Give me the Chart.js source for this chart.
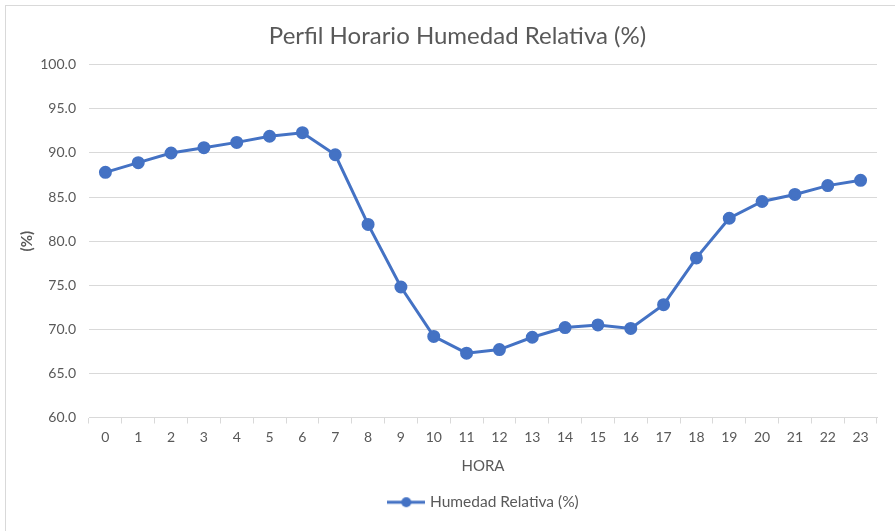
<!DOCTYPE html>
<html>
<head>
<meta charset="utf-8">
<script src="https://cdn.jsdelivr.net/npm/chart.js@4/dist/chart.umd.min.js"></script>
<style>
  body { margin: 0; background: #fff; }
  #wrap { position: relative; width: 895px; height: 531px; }
  #frame { position: absolute; left: 5px; top: 5px; width: 895px; height: 531px; border: 1px solid #d9d9d9; box-sizing: border-box; pointer-events: none; }
</style>
</head>
<body>
<div id="wrap">
  <canvas id="myChart" width="895" height="531"></canvas>
  <div id="frame"></div>
</div>
<script>
// datos
const horas = ["0","1","2","3","4","5","6","7","8","9","10","11","12","13","14","15","16","17","18","19","20","21","22","23"]
const humedad = [87.8, 88.9, 90.0, 90.6, 91.2, 91.9, 92.3, 89.8, 81.9, 74.8, 69.2, 67.3, 67.7, 69.1, 70.2, 70.5, 70.1, 72.8, 78.1, 82.6, 84.5, 85.3, 86.3, 86.9]
const yTicks = [60, 65, 70, 75, 80, 85, 90, 95, 100]

const azul = "#4472C4"
const gris = "#595959"
const fuente = "Lato, 'Open Sans', sans-serif"

// marcador de la leyenda: linea con punto
const marker = document.createElement("canvas")
marker.width = 38
marker.height = 12
const mctx = marker.getContext("2d")
mctx.strokeStyle = azul
mctx.lineWidth = 3
mctx.beginPath()
mctx.moveTo(0, 6)
mctx.lineTo(38, 6)
mctx.stroke()
mctx.fillStyle = azul
mctx.beginPath()
mctx.arc(19, 6, 5, 0, Math.PI * 2)
mctx.fill()

// mover titulo y leyenda un poco a la derecha como en el original
const mover = {
    id: "mover",
    afterLayout(chart) {
        chart.legend.left += 46
        chart.legend.right += 46
        chart.titleBlock.left += 19
        chart.titleBlock.right += 19
    }
}

const config = {
    type: "line",
    data: {
        labels: horas,
        datasets: [{
            label: "Humedad Relativa (%)",
            data: humedad,
            borderColor: azul,
            backgroundColor: azul,
            borderWidth: 3,
            pointRadius: 5,
            pointHoverRadius: 5,
            tension: 0
        }]
    },
    options: {
        responsive: false,
        animation: false,
        layout: { padding: { left: 0, right: 18, top: 0, bottom: 11 } },
        plugins: {
            title: {
                display: true,
                text: "Perfil Horario Humedad Relativa (%)",
                color: gris,
                font: { family: fuente, size: 24, weight: "normal" },
                padding: { top: 22, bottom: 14 }
            },
            legend: {
                position: "bottom",
                labels: {
                    color: gris,
                    font: { family: fuente, size: 15.5 },
                    usePointStyle: true,
                    pointStyleWidth: 32,
                    padding: 9,
                    generateLabels(chart) {
                        const items = Chart.defaults.plugins.legend.labels.generateLabels(chart)
                        items.forEach(i => { i.pointStyle = marker })
                        return items
                    }
                }
            },
            tooltip: { enabled: false }
        },
        scales: {
            x: {
                offset: true,
                grid: { offset: true, drawOnChartArea: false, drawTicks: true, tickLength: 6, color: "#d9d9d9" },
                border: { color: "#d9d9d9" },
                ticks: { color: gris, font: { family: fuente, size: 14 }, padding: 6, maxRotation: 0, autoSkip: false },
                title: { display: true, text: "HORA", color: gris, font: { family: fuente, size: 15 }, padding: { top: 0, bottom: 10 } },
                afterFit(scale) { scale.height = 68 }
            },
            y: {
                min: 60,
                max: 100,
                afterBuildTicks(scale) { scale.ticks = yTicks.map(v => ({ value: v })) },
                grid: { color: "#d9d9d9", drawTicks: false },
                border: { display: false },
                ticks: { color: gris, font: { family: fuente, size: 14 }, padding: 13, callback: v => Number(v).toFixed(1) },
                title: { display: true, text: "(%)", color: gris, font: { family: fuente, size: 15, weight: "bold" }, padding: { top: 18, bottom: 0 } },
                afterFit(scale) { scale.width = 89 }
            }
        }
    },
    plugins: [mover]
}

const myChart = document.getElementById("myChart")
new Chart(myChart, config)
</script>
</body>
</html>
